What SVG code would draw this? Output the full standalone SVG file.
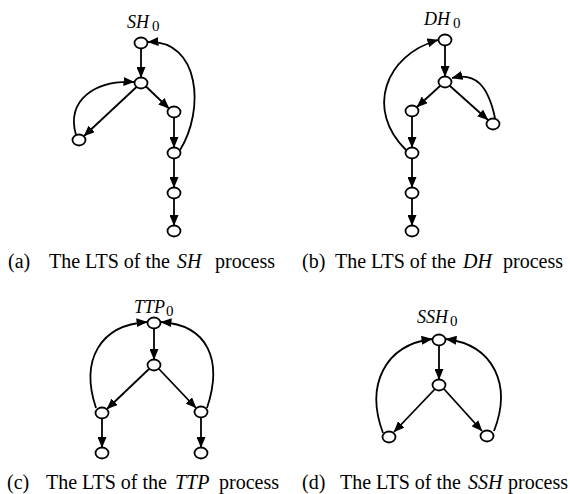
<svg xmlns="http://www.w3.org/2000/svg" width="570" height="494" viewBox="0 0 570 494">
<style>
.n{fill:#fff;stroke:#000;stroke-width:1.8}
.e{fill:none;stroke:#000;stroke-width:1.8;marker-end:url(#ah)}
.t{font-family:"Liberation Serif","Times New Roman",serif;font-size:20px;fill:#000}
.i{font-style:italic}
.lb{font-family:"Liberation Serif","Times New Roman",serif;font-size:18px;fill:#000}
.sub{font-size:15px;font-style:normal}
</style>
<defs>
<marker id="ah" markerUnits="userSpaceOnUse" markerWidth="11" markerHeight="9" refX="10.5" refY="4.5" orient="auto">
<path d="M0,0 L11,4.5 L0,9 z" fill="#000"/>
</marker>
</defs>
<rect width="570" height="494" fill="#fff"/>
<g id="connectors">
<path class="e" d="M141,48.5 L141,77.5"/>
<path class="e" d="M136.5,87 L84,136"/>
<path class="e" d="M146,86.5 L169,108.5"/>
<path class="e" d="M174,117.5 L174,147.5"/>
<path class="e" d="M174,158.5 L174,187.5"/>
<path class="e" d="M174,198.5 L174,225.5"/>
<path class="e" d="M76,135 C66,100 95,80 134,82"/>
<path class="e" d="M180,150 C205,110 200,40 148,42"/>
<path class="e" d="M445,45.5 L445,76.5"/>
<path class="e" d="M440,86 L417,107"/>
<path class="e" d="M450,86 L488,120"/>
<path class="e" d="M412,116.5 L412,147.5"/>
<path class="e" d="M412,158.5 L412,187.5"/>
<path class="e" d="M412,198.5 L412,225.5"/>
<path class="e" d="M495,118 C488,85 475,72 452,78"/>
<path class="e" d="M406,150 C365,110 385,55 438,40"/>
<path class="e" d="M154,328.5 L154,359.5"/>
<path class="e" d="M149,369 L107,409"/>
<path class="e" d="M159,369 L196,408"/>
<path class="e" d="M102,418.5 L102,447.5"/>
<path class="e" d="M201,417.5 L201,447.5"/>
<path class="e" d="M96,408 C80,360 100,325 147,322"/>
<path class="e" d="M207,408 C223,360 208,325 161,322"/>
<path class="e" d="M439,345.5 L439,379.5"/>
<path class="e" d="M435,389 L394,432"/>
<path class="e" d="M444,389 L482,431"/>
<path class="e" d="M383,433 C365,385 385,345 432,339"/>
<path class="e" d="M494,431 C512,385 494,345 446,339"/>
</g>
<g id="a1"><ellipse class="n" cx="141" cy="43" rx="6.5" ry="5.5"/><text class="lb" x="127" y="28"><tspan class="i">SH</tspan><tspan class="sub" dx="3" dy="3">0</tspan></text></g>
<g id="a2"><ellipse class="n" cx="141" cy="83" rx="6.5" ry="5.5"/></g>
<g id="a3"><ellipse class="n" cx="79" cy="140" rx="6.5" ry="5.5"/></g>
<g id="a4"><ellipse class="n" cx="174" cy="112" rx="6.5" ry="5.5"/></g>
<g id="a5"><ellipse class="n" cx="174" cy="153" rx="6.5" ry="5.5"/></g>
<g id="a6"><ellipse class="n" cx="174" cy="193" rx="6.5" ry="5.5"/></g>
<g id="a7"><ellipse class="n" cx="174" cy="231" rx="6.5" ry="5.5"/></g>
<g id="b1"><ellipse class="n" cx="445" cy="40" rx="6.5" ry="5.5"/><text class="lb" x="424" y="25"><tspan class="i">DH</tspan><tspan class="sub" dx="3" dy="3">0</tspan></text></g>
<g id="b2"><ellipse class="n" cx="445" cy="82" rx="6.5" ry="5.5"/></g>
<g id="b3"><ellipse class="n" cx="412" cy="111" rx="6.5" ry="5.5"/></g>
<g id="b4"><ellipse class="n" cx="493" cy="124" rx="6.5" ry="5.5"/></g>
<g id="b5"><ellipse class="n" cx="412" cy="153" rx="6.5" ry="5.5"/></g>
<g id="b6"><ellipse class="n" cx="412" cy="193" rx="6.5" ry="5.5"/></g>
<g id="b7"><ellipse class="n" cx="412" cy="231" rx="6.5" ry="5.5"/></g>
<g id="c1"><ellipse class="n" cx="154" cy="323" rx="6.5" ry="5.5"/><text class="lb" x="134" y="313"><tspan class="i">TTP</tspan><tspan class="sub" dx="1" dy="3">0</tspan></text></g>
<g id="c2"><ellipse class="n" cx="154" cy="365" rx="6.5" ry="5.5"/></g>
<g id="c3"><ellipse class="n" cx="102" cy="413" rx="6.5" ry="5.5"/></g>
<g id="c4"><ellipse class="n" cx="201" cy="412" rx="6.5" ry="5.5"/></g>
<g id="c5"><ellipse class="n" cx="102" cy="453" rx="6.5" ry="5.5"/></g>
<g id="c6"><ellipse class="n" cx="201" cy="453" rx="6.5" ry="5.5"/></g>
<g id="d1"><ellipse class="n" cx="439" cy="340" rx="6.5" ry="5.5"/><text class="lb" x="417" y="323"><tspan class="i">SSH</tspan><tspan class="sub" dx="2" dy="3">0</tspan></text></g>
<g id="d2"><ellipse class="n" cx="439" cy="385" rx="6.5" ry="5.5"/></g>
<g id="d3"><ellipse class="n" cx="389" cy="437" rx="6.5" ry="5.5"/></g>
<g id="d4"><ellipse class="n" cx="487" cy="436" rx="6.5" ry="5.5"/></g>
<g id="captions">
<text class="t" y="268"><tspan x="8">(a)</tspan><tspan x="49">The LTS of the</tspan><tspan class="i" x="177">SH</tspan><tspan x="215">process</tspan></text>
<text class="t" y="268"><tspan x="302">(b)</tspan><tspan x="335">The LTS of the</tspan><tspan class="i" x="463">DH</tspan><tspan x="503">process</tspan></text>
<text class="t" y="489"><tspan x="7">(c)</tspan><tspan x="46">The LTS of the</tspan><tspan class="i" x="175">TTP</tspan><tspan x="219">process</tspan></text>
<text class="t" y="489"><tspan x="302">(d)</tspan><tspan x="340">The LTS of the</tspan><tspan class="i" x="468">SSH</tspan><tspan x="508">process</tspan></text>
</g>
</svg>
